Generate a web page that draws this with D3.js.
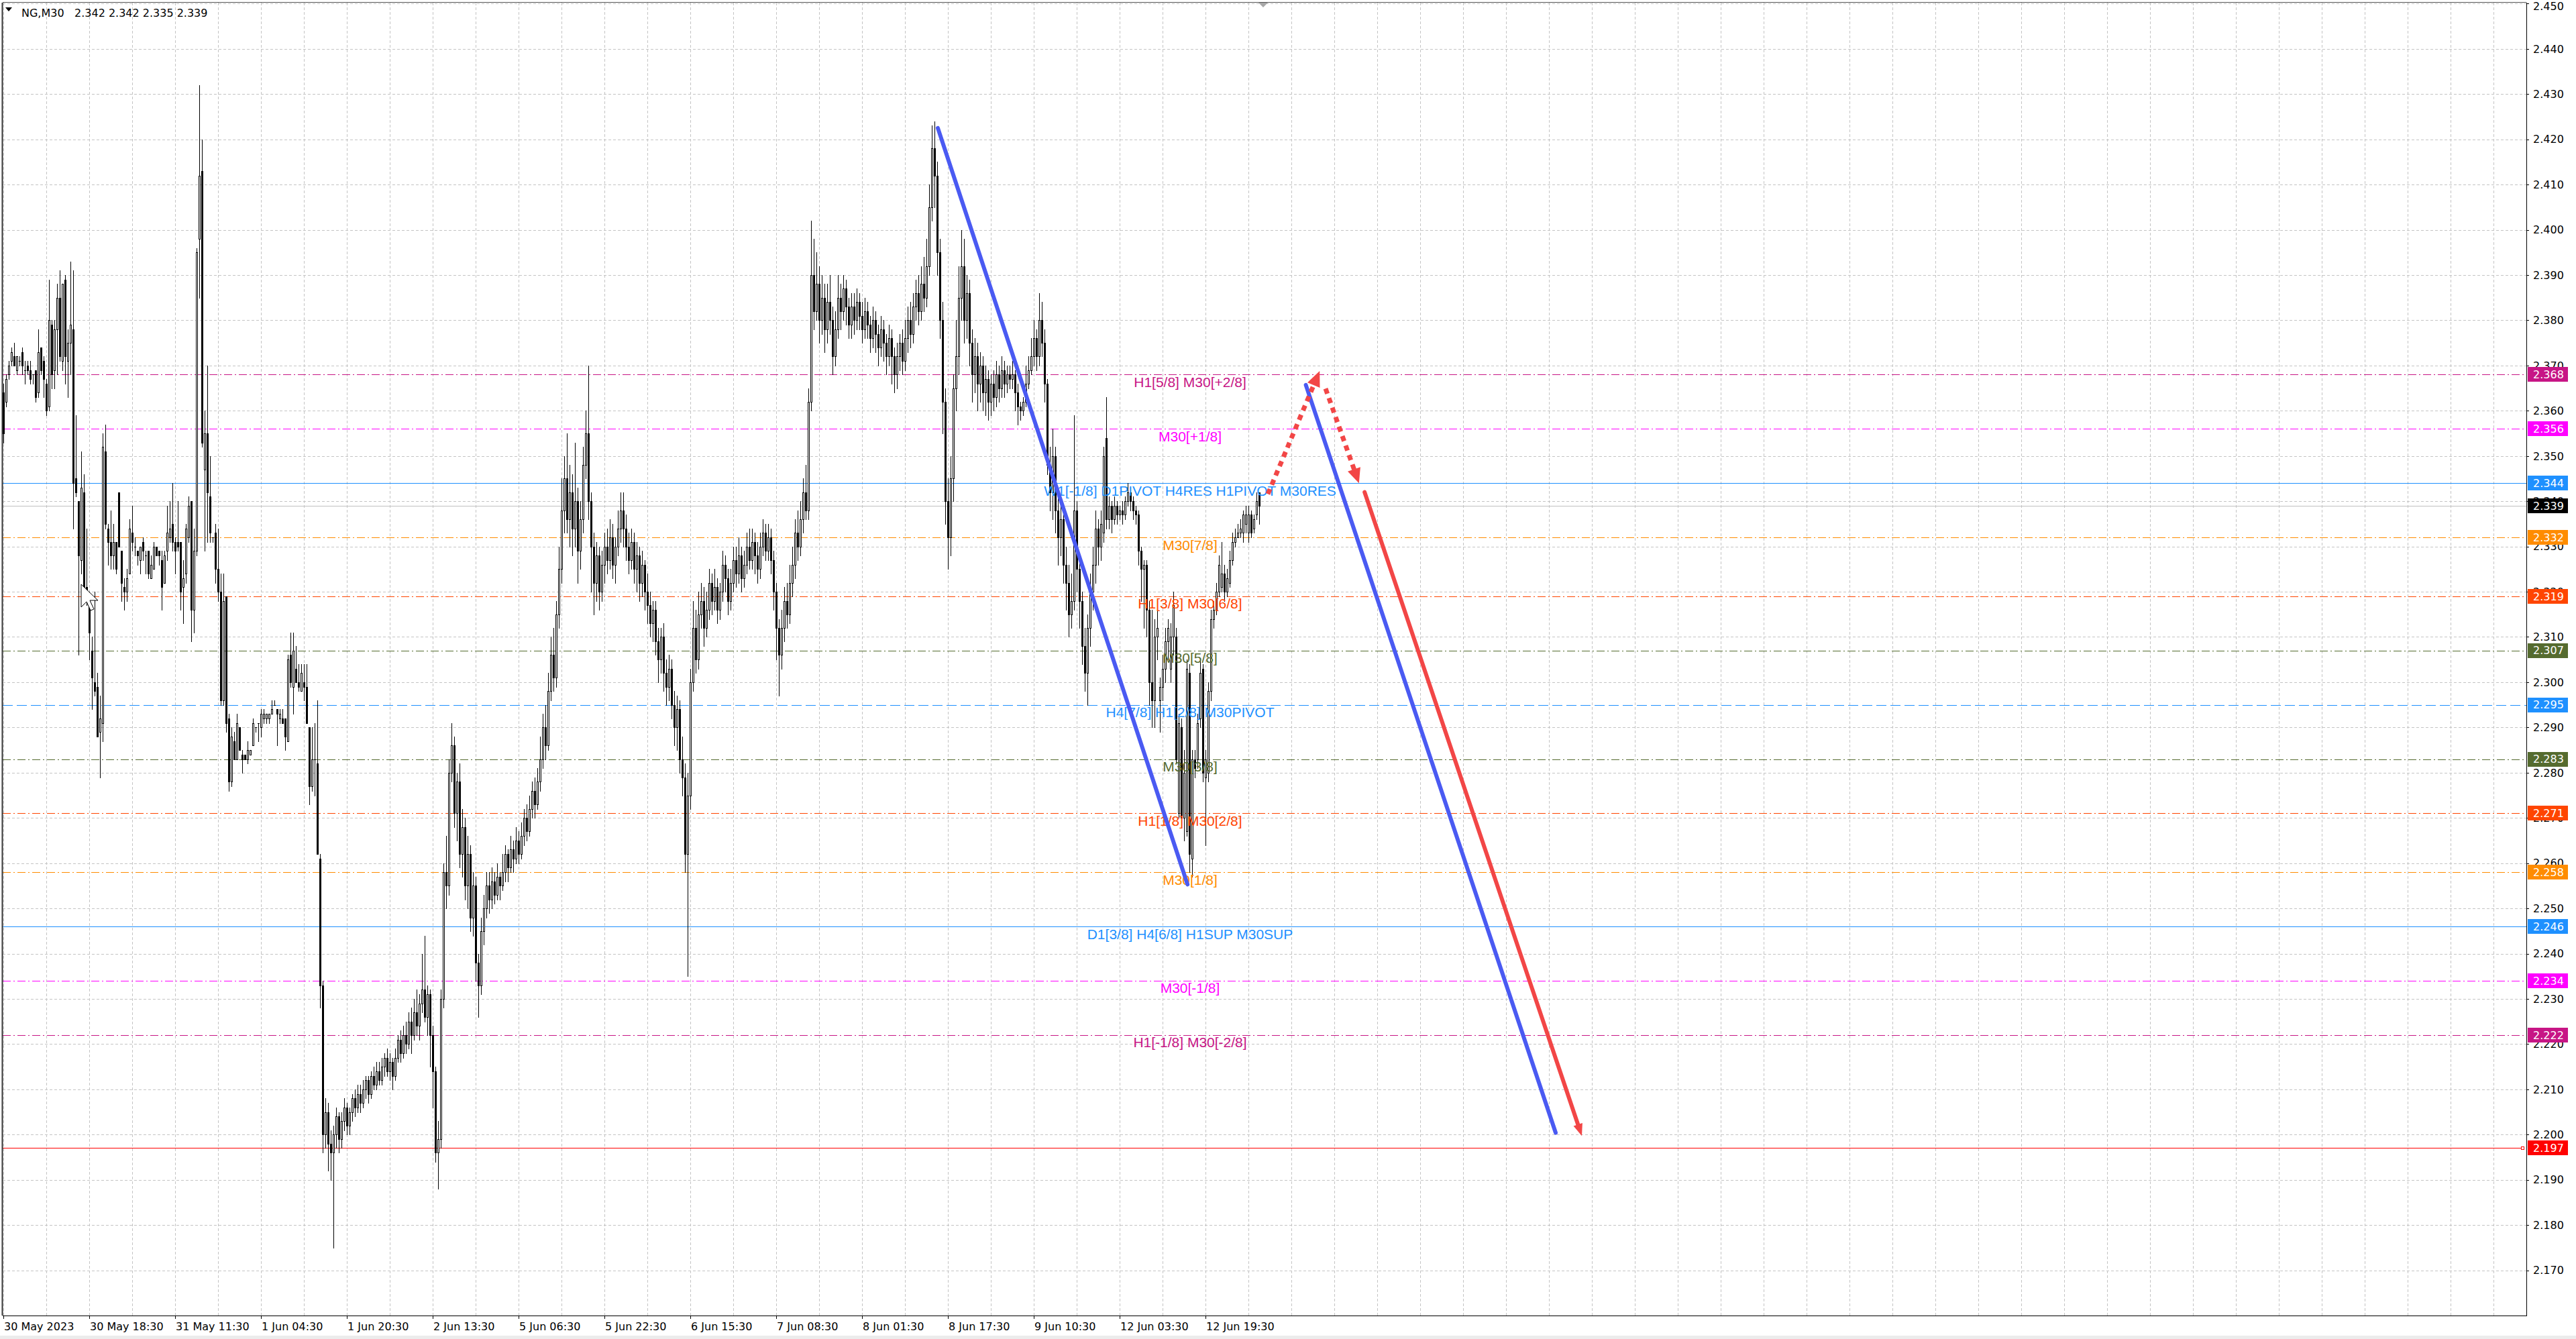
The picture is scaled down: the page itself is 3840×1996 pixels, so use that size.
<!DOCTYPE html>
<html><head><meta charset="utf-8">
<script src="https://cdn.jsdelivr.net/npm/d3@7"></script>
<style>html,body{margin:0;padding:0;background:#fff;}svg{display:block}</style>
</head><body>
<svg id="c" width="3840" height="1996"></svg>
<script>
// Prices are stored in thousandths above 2.000 (e.g. 364 -> 2.364)
const PRICE_BASE = 2, PRICE_UNIT = 0.001;
const symbolTitle = "NG,M30";
const lastQuote = ["2.342", "2.342", "2.335", "2.339"];

const opens = [
364,362,368,371,372,369,371,373,369,370,
369,368,369,364,374,371,366,361,379,369,
378,385,371,389,371,375,378,345,340,327,
342,321,318,307,300,299,289,291,351,334,
331,328,331,342,329,321,320,324,333,330,
329,327,331,328,329,323,325,330,329,327,
322,329,332,335,331,331,331,321,324,332,
340,316,329,398,413,347,355,341,332,333,
325,320,296,319,292,278,287,283,290,284,
284,283,284,286,290,291,290,292,292,292,
293,295,294,292,292,292,287,306,299,303,
300,298,300,299,290,277,283,282,261,233,
200,205,198,196,200,204,199,203,206,202,
205,208,206,209,207,210,212,209,213,211,
214,212,215,217,214,216,213,217,221,218,
222,220,225,222,227,224,229,232,226,231,
222,214,196,199,230,258,255,280,286,271,
278,262,268,255,262,248,255,238,233,245,
250,255,252,256,253,257,255,258,262,259,
263,261,265,262,266,270,267,272,276,273,
278,283,290,286,298,306,301,315,325,338,
345,336,342,334,340,329,336,348,355,340,
330,322,328,320,326,330,327,332,326,330,
334,338,334,330,327,331,325,328,322,326,
320,317,313,316,309,305,310,302,299,303,
295,290,294,283,279,262,275,300,312,305,
315,318,312,316,322,318,321,316,320,326,
323,318,322,327,324,328,323,326,330,327,
331,328,325,330,333,329,332,327,320,312,
306,312,318,315,322,326,333,330,336,342,
338,362,390,382,388,380,385,378,384,380,
372,378,385,382,387,383,379,383,380,384,
381,378,382,379,376,380,377,374,378,375,
372,376,372,368,372,375,371,376,380,377,
383,386,382,388,385,392,405,418,412,395,
380,362,340,332,345,365,372,385,392,380,
386,375,368,372,366,370,364,367,362,366,
363,368,365,369,366,368,367,368,364,361,
360,362,366,369,372,376,372,380,375,366,
348,342,350,338,332,336,326,322,315,318,
338,325,318,308,302,312,320,326,334,330,
333,354,336,339,336,339,337,338,337,340,
342,340,338,337,329,325,326,316,300,296,
310,296,299,303,309,303,310,310,271,290,
270,267,302,261,283,283,292,303,279,280,
298,314,316,320,321,324,320,322,327,331,
332,333,333,335,333,337,334,337,342];
const highs = [
366,368,371,374,375,372,372,374,371,371,
371,368,369,378,374,372,367,389,380,380,
388,391,388,390,378,393,391,359,340,351,
346,334,320,310,320,302,297,355,357,335,
338,335,331,342,329,323,325,336,339,332,
329,330,332,329,329,328,331,330,329,329,
329,339,340,344,332,340,331,327,335,341,
340,334,396,432,420,360,370,350,332,335,
334,324,324,319,293,290,289,293,290,285,
284,287,285,292,290,291,294,294,293,293,
296,296,294,294,294,292,306,311,311,308,
304,304,304,304,290,290,291,296,262,234,
208,207,201,202,206,205,205,208,207,206,
209,210,211,211,212,213,213,214,215,216,
216,217,218,219,218,217,219,222,223,224,
225,227,228,230,232,231,240,244,233,232,
224,215,203,232,260,266,283,291,288,280,
282,272,270,266,264,258,257,240,248,253,
258,258,259,258,260,258,262,264,263,266,
265,268,267,269,272,273,275,278,279,281,
288,293,295,302,310,312,318,330,345,350,
355,348,346,353,343,340,352,360,370,342,
333,331,330,329,333,334,336,335,332,338,
342,342,337,333,334,333,331,330,329,327,
324,320,318,318,312,312,313,305,306,305,
298,297,296,288,282,280,303,318,316,320,
322,321,320,325,324,325,323,322,329,328,
325,325,330,330,332,330,329,333,334,334,
333,331,333,336,335,335,334,329,322,314,
316,321,322,326,330,336,338,340,345,348,
365,402,398,395,392,390,388,388,390,383,
382,390,388,390,389,385,386,386,387,386,
384,385,384,381,383,382,379,381,380,377,
379,378,374,375,377,378,380,383,384,386,
389,390,392,394,398,410,423,424,415,398,
384,365,345,350,368,380,392,400,398,390,
389,378,376,375,373,372,370,369,368,369,
371,370,372,371,370,370,371,369,366,362,
363,370,372,376,380,378,386,384,378,367,
352,356,352,342,340,338,330,326,324,359,
340,328,320,312,315,324,330,338,336,338,
352,363,341,340,341,340,339,340,341,344,
343,341,339,338,330,327,327,318,316,314,
316,301,306,312,314,313,320,312,293,292,
285,305,304,285,285,293,305,304,285,300,
316,318,322,328,331,326,325,329,333,334,
335,336,338,339,339,338,337,342,342];
const lows = [
353,361,367,370,370,368,370,368,366,368,
366,366,362,363,368,363,359,360,365,365,
368,371,369,366,363,368,334,341,306,324,
320,317,305,294,297,288,279,287,334,326,
325,325,324,330,318,316,318,324,329,328,
326,324,327,324,323,323,325,328,326,316,
322,327,331,329,324,329,316,313,322,331,
309,311,328,385,352,329,331,331,331,322,
318,295,295,289,276,277,283,283,285,280,
283,282,284,286,289,287,288,291,291,291,
293,295,286,291,291,285,287,299,293,300,
298,298,296,291,273,276,275,262,228,196,
197,192,190,175,197,196,197,201,200,200,
203,204,205,205,206,208,207,208,210,210,
211,211,213,213,212,210,212,216,216,217,
218,219,218,221,222,221,227,225,222,215,
206,194,188,197,228,250,253,278,268,265,
259,257,252,250,245,244,234,226,231,242,
248,249,250,251,252,252,254,256,256,258,
258,260,260,261,264,265,266,270,270,272,
276,281,283,285,296,298,299,312,322,333,
333,330,328,330,322,325,333,345,336,320,
315,318,316,318,322,324,325,323,322,328,
331,330,327,324,325,322,320,318,319,316,
313,310,309,306,300,302,298,295,296,292,
286,285,280,275,258,235,272,298,302,303,
312,308,310,314,315,316,313,314,318,320,
315,316,320,321,322,320,321,324,325,325,
324,322,323,328,327,327,324,316,305,297,
303,309,312,313,319,323,327,328,333,336,
336,360,378,380,375,377,373,375,377,368,
370,376,378,380,379,376,376,377,378,378,
375,376,376,373,374,373,370,372,371,368,
370,366,364,365,369,368,369,373,374,375,
380,379,380,382,383,390,402,405,390,376,
355,335,325,328,340,360,368,380,375,376,
370,362,364,360,362,360,359,358,359,360,
361,362,363,363,364,365,365,360,357,358,
359,361,365,368,370,369,370,372,362,346,
338,336,333,326,328,322,316,310,312,316,
320,312,304,298,295,308,316,322,326,327,
331,334,334,333,335,335,336,335,336,339,
338,336,335,326,318,312,310,295,290,290,
305,289,296,300,305,300,306,282,270,268,
265,266,258,257,279,281,290,278,264,278,
296,312,315,319,320,318,319,321,326,330,
332,332,331,333,331,332,333,336,335];
const closes = [
355,367,370,373,370,372,371,370,369,369,
367,368,363,373,369,367,360,380,368,378,
385,372,388,372,375,379,344,342,328,343,
321,318,311,301,298,288,292,352,335,331,
328,331,325,330,322,320,323,334,331,330,
328,330,329,328,324,326,330,328,328,321,
328,333,334,331,329,330,320,323,334,339,
316,329,395,412,353,355,342,333,332,325,
320,296,318,291,278,288,283,291,285,283,
283,285,285,291,290,291,293,293,293,293,
294,295,293,293,291,288,305,300,307,300,
299,302,299,291,277,283,283,262,233,200,
205,198,196,200,204,199,203,206,202,205,
208,206,209,207,210,212,209,213,211,214,
212,215,217,214,216,213,217,221,218,222,
220,225,222,227,224,229,232,226,231,222,
214,196,199,230,258,255,280,286,271,278,
262,268,255,262,248,255,238,233,245,250,
255,252,256,253,257,255,258,262,259,263,
261,265,262,266,270,267,272,276,273,278,
283,290,286,298,306,301,315,325,338,345,
336,342,334,340,329,336,348,355,340,330,
322,328,320,326,330,327,332,326,330,334,
338,334,330,327,331,325,328,322,326,320,
317,313,316,309,305,310,302,299,303,295,
290,294,283,279,262,275,300,312,305,315,
318,312,316,322,318,321,316,320,326,323,
318,322,327,324,328,323,326,330,327,331,
328,325,330,333,329,332,327,320,312,306,
312,318,315,322,326,333,330,336,342,338,
362,390,382,388,380,385,378,384,380,372,
378,385,382,387,383,379,383,380,384,381,
378,382,379,376,380,377,374,378,375,372,
376,372,368,372,375,371,376,380,377,383,
386,382,388,385,392,405,418,412,395,380,
362,340,332,345,365,372,385,392,380,386,
375,368,372,366,370,364,367,362,366,363,
368,365,369,366,368,367,368,364,361,360,
362,366,369,372,376,372,380,375,366,348,
342,350,338,332,336,326,322,315,318,338,
325,318,308,302,312,320,326,334,330,335,
350,336,339,336,339,337,338,337,340,342,
340,338,337,329,325,326,316,300,296,310,
312,299,303,309,312,310,317,283,291,270,
280,303,262,283,281,291,302,280,283,298,
314,316,320,326,324,320,323,327,331,332,
333,334,337,337,337,333,336,340,339];

const priceTickLabels = ["2.170","2.180","2.190","2.200","2.210","2.220","2.230","2.240","2.250","2.260","2.270","2.280","2.290","2.300","2.310","2.320","2.330","2.340","2.350","2.360","2.370","2.380","2.390","2.400","2.410","2.420","2.430","2.440","2.450"];
const timeLabels = ["30 May 2023","30 May 18:30","31 May 11:30","1 Jun 04:30","1 Jun 20:30","2 Jun 13:30","5 Jun 06:30","5 Jun 22:30","6 Jun 15:30","7 Jun 08:30","8 Jun 01:30","8 Jun 17:30","9 Jun 10:30","12 Jun 03:30","12 Jun 19:30"];
const timeLabelBars = [0,32,64,96,128,160,192,224,256,288,320,352,384,416,448];

const levelPrices = [2.368, 2.356, 2.344, 2.332, 2.319, 2.307, 2.295, 2.283, 2.271, 2.258, 2.246, 2.234, 2.222];
const levelNames = ["H1[5/8] M30[+2/8]","M30[+1/8]","W1[-1/8] D1PIVOT H4RES H1PIVOT M30RES","M30[7/8]","H1[3/8] M30[6/8]","M30[5/8]","H4[7/8] H1[2/8] M30PIVOT","M30[3/8]","H1[1/8] M30[2/8]","M30[1/8]","D1[3/8] H4[6/8] H1SUP M30SUP","M30[-1/8]","H1[-1/8] M30[-2/8]"];
const levelColors = ["#C71585","#FF00FF","#1E90FF","#FF8C00","#FF4500","#556B2F","#1E90FF","#556B2F","#FF4500","#FF8C00","#1E90FF","#FF00FF","#C71585"];
const levelStyles = ["dashdot","dashdot","solid","dashdot","dashdot","dashdot","dash","dashdot","dashdot","dashdot","solid","dashdot","dashdot"];
const supportPrice = 2.197;
const currentPrice = 2.339;

// hand-drawn analysis lines: [bar index, price]
const blueLine1 = [[348.25, 2.4225], [441.3, 2.2553]];
const blueLine2 = [[485.4, 2.3657], [578.5, 2.2004]];
const redDotUp = [[471.25, 2.3416], [490.55, 2.3688]];
const redDotDown = [[492.75, 2.3649], [505.2, 2.3440]];
const redSolid = [[507.3, 2.3420], [588.25, 2.1997]];

const svg = d3.select("#c");
const PL = 4, PT = 4, PR = 3766, PB = 1961;
const x = d3.scaleLinear().domain([0, 940.25]).range([5, 3766]);
const y = d3.scaleLinear().domain([2.16, 2.45]).range([1961, 5.4]);
const P = v => PRICE_BASE + v * PRICE_UNIT;
const cy = p => Math.round(y(p)) + 0.5;

svg.append("rect").attr("width", 3840).attr("height", 1996).attr("fill", "#fff");
svg.append("rect").attr("x", 0).attr("y", 1991).attr("width", 3840).attr("height", 5).attr("fill", "#ececec");

// grid
const grid = svg.append("g").attr("stroke", "#c4c4c4").attr("stroke-dasharray", "4,3");
grid.selectAll("line.h").data(priceTickLabels).join("line")
  .attr("x1", PL).attr("x2", PR).attr("y1", d => cy(+d)).attr("y2", d => cy(+d));
grid.selectAll("line.v").data(d3.range(0, 941, 16)).join("line")
  .attr("x1", d => Math.round(x(d)) + 0.5).attr("x2", d => Math.round(x(d)) + 0.5)
  .attr("y1", PT).attr("y2", PB);

// level lines
const dashFor = s => s === "dashdot" ? "12,4,2,4" : (s === "dash" ? "15,6" : null);
const lv = svg.append("g");
lv.selectAll("line").data(levelPrices).join("line")
  .attr("x1", PL).attr("x2", PR).attr("y1", d => cy(d)).attr("y2", d => cy(d))
  .attr("stroke", (d, i) => levelColors[i]).attr("stroke-dasharray", (d, i) => dashFor(levelStyles[i]));
lv.append("line").attr("x1", PL).attr("x2", PR).attr("y1", cy(currentPrice)).attr("y2", cy(currentPrice)).attr("stroke", "#c0c0c0");
lv.append("line").attr("x1", PL).attr("x2", PR - 4).attr("y1", cy(supportPrice)).attr("y2", cy(supportPrice)).attr("stroke", "#ff0000");
lv.append("rect").attr("x", PR - 7.5).attr("y", cy(supportPrice) - 2).attr("width", 4).attr("height", 4).attr("fill", "#fff").attr("stroke", "#ff0000");

// candles
const bars = d3.range(opens.length).map(i => ({ i, o: P(opens[i]), h: P(highs[i]), l: P(lows[i]), c: P(closes[i]) }));
const cg = svg.append("g");
cg.selectAll("line.w").data(bars).join("line")
  .attr("x1", d => Math.round(x(d.i)) + 0.5).attr("x2", d => Math.round(x(d.i)) + 0.5)
  .attr("y1", d => Math.round(y(d.h))).attr("y2", d => Math.round(y(d.l)) + 1)
  .attr("stroke", "#000");
bars.forEach(b => {
  const cx = Math.round(x(b.i));
  const top = Math.round(y(Math.max(b.o, b.c))), bot = Math.round(y(Math.min(b.o, b.c)));
  if (bot - top < 1) {
    cg.append("rect").attr("x", cx - 1).attr("y", top).attr("width", 3).attr("height", 1).attr("fill", "#000");
  } else if (b.c >= b.o) {
    cg.append("rect").attr("x", cx - 0.5).attr("y", top + 0.5).attr("width", 2).attr("height", bot - top).attr("fill", "#fff").attr("stroke", "#000");
  } else {
    cg.append("rect").attr("x", cx - 1).attr("y", top).attr("width", 3).attr("height", bot - top + 1).attr("fill", "#000");
  }
});

// level texts
svg.append("g").selectAll("text").data(levelPrices).join("text")
  .attr("x", 1774).attr("y", d => y(d) + 18.5).attr("text-anchor", "middle")
  .attr("font-family", "Liberation Sans, Arial, sans-serif").attr("font-size", 21)
  .attr("fill", (d, i) => levelColors[i]).text((d, i) => levelNames[i]);

// mouse cursor
svg.append("path").attr("d", "M121,871 L121,905 L129,897 L135,910 L140,908 L134,895 L146,895 Z")
  .attr("fill", "#fff").attr("stroke", "#000").attr("stroke-width", 1);

// analysis lines
const BLUE = "#4a5af2", RED = "#f24646";
const pt = d => [x(d[0]), y(d[1])];
function seg(data, color, w, dash) {
  const [a, b] = data.map(pt);
  const l = svg.append("line").attr("x1", a[0]).attr("y1", a[1]).attr("x2", b[0]).attr("y2", b[1])
    .attr("stroke", color).attr("stroke-width", w).attr("stroke-linecap", dash ? "butt" : "round");
  if (dash) l.attr("stroke-dasharray", dash);
}
function arrowHead(data, color, len, wid) {
  const [a, b] = data.map(pt);
  const ang = Math.atan2(b[1] - a[1], b[0] - a[0]);
  const bx = b[0] - len * Math.cos(ang), by = b[1] - len * Math.sin(ang);
  const nx = -Math.sin(ang) * wid / 2, ny = Math.cos(ang) * wid / 2;
  svg.append("path").attr("d", `M${b[0]},${b[1]}L${bx + nx},${by + ny}L${bx - nx},${by - ny}Z`).attr("fill", color);
}
seg(blueLine1, BLUE, 6);
seg(blueLine2, BLUE, 6);
const shorten = (d, len) => { const [a, b] = d.map(pt); const L = Math.hypot(b[0]-a[0], b[1]-a[1]); const t = (L - len) / L; return [d[0], [x.invert(a[0] + (b[0]-a[0]) * t), y.invert(a[1] + (b[1]-a[1]) * t)]]; };
seg(shorten(redDotUp, 12), RED, 7, "8,7");
arrowHead(redDotUp, RED, 23, 20);
seg(shorten(redDotDown, 12), RED, 7, "8,7");
arrowHead(redDotDown, RED, 22, 20);
seg(shorten(redSolid, 10), RED, 6);
arrowHead(redSolid, RED, 18, 14);

// frame / axes
const fr = svg.append("g").attr("stroke", "#000").attr("fill", "none");
fr.append("line").attr("x1", PL - 0.5).attr("x2", PL - 0.5).attr("y1", PT).attr("y2", PB).attr("stroke-width", 2).attr("stroke", "#333");
fr.append("line").attr("x1", PL).attr("x2", PR).attr("y1", PT - 0.5).attr("y2", PT - 0.5).attr("stroke", "#555");
fr.append("line").attr("x1", PR + 0.5).attr("x2", PR + 0.5).attr("y1", PT).attr("y2", PB + 1);
fr.append("line").attr("x1", PL).attr("x2", PR + 1).attr("y1", PB + 0.5).attr("y2", PB + 0.5);

const ax = svg.append("g").attr("font-family", "DejaVu Sans, sans-serif").attr("font-size", 16);
ax.selectAll("line.pt").data(priceTickLabels).join("line")
  .attr("x1", PR + 1).attr("x2", PR + 4).attr("y1", d => cy(+d)).attr("y2", d => cy(+d)).attr("stroke", "#000");
ax.selectAll("text.pt").data(priceTickLabels).join("text")
  .attr("x", 3776).attr("y", d => Math.max(y(+d), 9)).attr("dy", "0.36em").attr("fill", "#000").text(d => d);
ax.selectAll("line.tt").data(timeLabelBars).join("line")
  .attr("x1", d => Math.round(x(d)) + 0.5).attr("x2", d => Math.round(x(d)) + 0.5)
  .attr("y1", PB + 1).attr("y2", PB + 5).attr("stroke", "#000");
ax.selectAll("text.tt").data(timeLabels).join("text")
  .attr("x", (d, i) => Math.round(x(timeLabelBars[i])) + 1).attr("y", 1983).attr("fill", "#000").text(d => d);

// price boxes on axis
const boxPrices = levelPrices.concat([currentPrice, supportPrice]);
const boxColors = levelColors.concat(["#000000", "#ff0000"]);
const bx = svg.append("g").attr("font-family", "DejaVu Sans, sans-serif").attr("font-size", 16);
boxPrices.forEach((p, i) => {
  const yy = y(p);
  bx.append("rect").attr("x", 3768).attr("y", Math.round(yy) - 11).attr("width", 60).attr("height", 22).attr("fill", boxColors[i]);
  bx.append("text").attr("x", 3776).attr("y", yy).attr("dy", "0.36em").attr("fill", "#fff").text(d3.format(".3f")(p));
});

// header
svg.append("path").attr("d", "M8,11 L18,11 L13,17 Z").attr("fill", "#000");
const hd = svg.append("g").attr("font-family", "DejaVu Sans, sans-serif").attr("font-size", 16).attr("fill", "#000");
hd.append("text").attr("x", 32).attr("y", 25).text(symbolTitle);
hd.append("text").attr("x", 111).attr("y", 25).text(lastQuote.join(" "));
// shift marker
svg.append("path").attr("d", "M1876,4 L1890,4 L1883,11 Z").attr("fill", "#a8a8a8");
</script>
</body></html>
